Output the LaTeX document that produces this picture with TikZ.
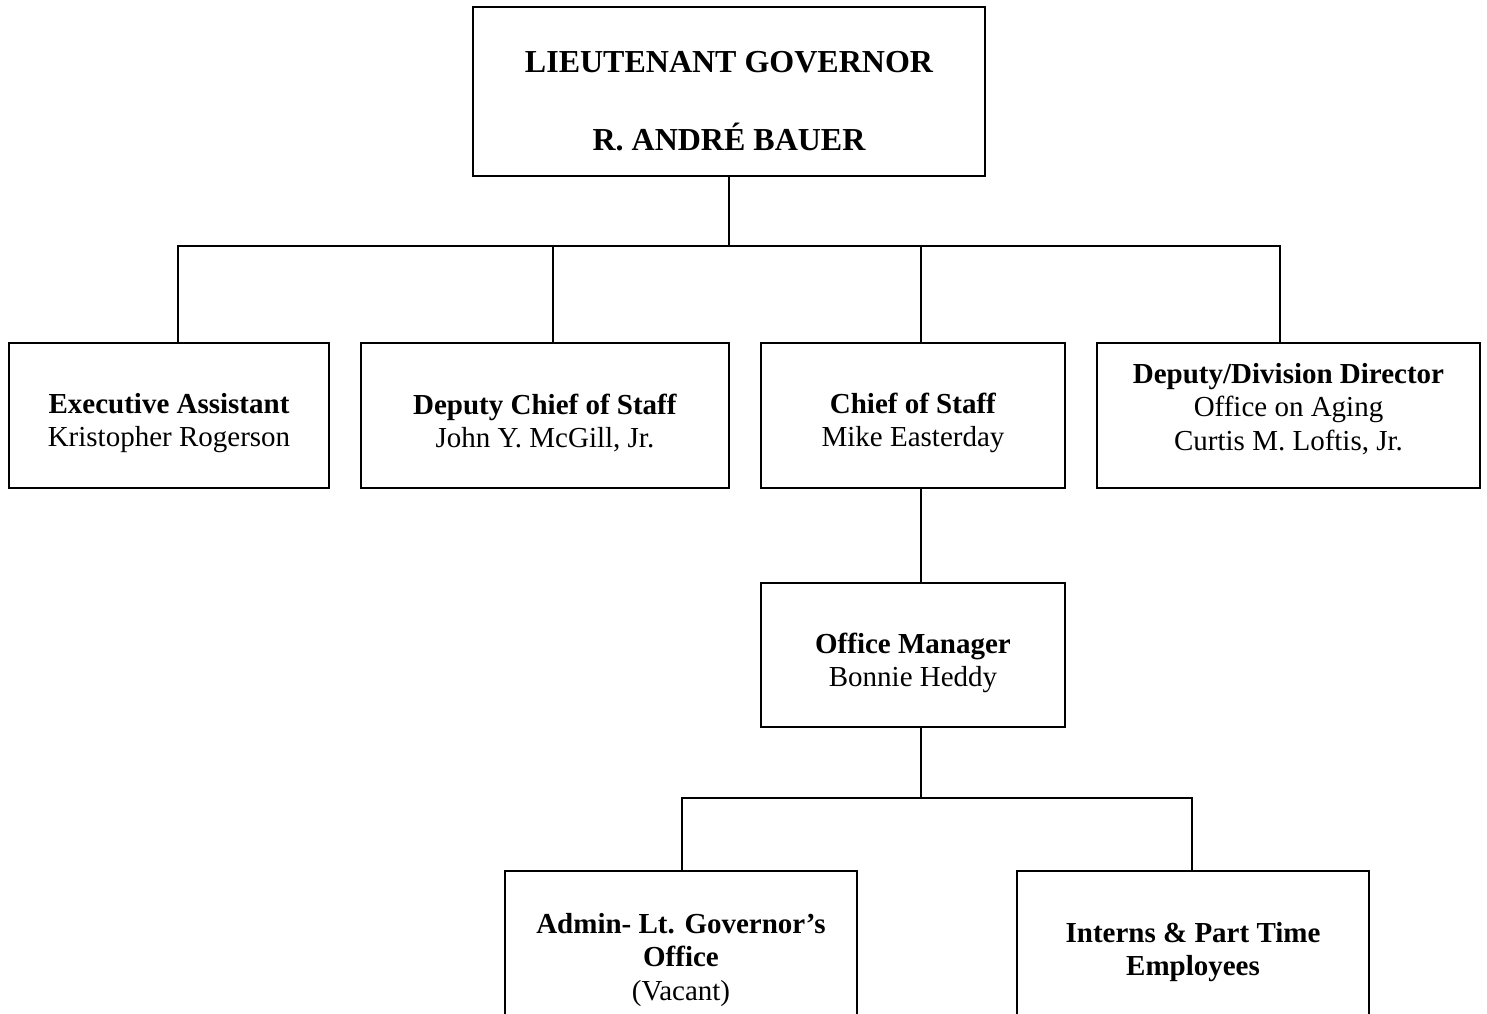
\documentclass[tikz,border=0pt]{standalone}
\usepackage{fontspec}
\setmainfont{Liberation Serif}
\begin{document}
\begin{tikzpicture}[x=0.5pt,y=-0.5pt,
  orgbox/.style={draw, line width=1pt, rectangle, inner sep=0pt},
  txt/.style={align=center, inner sep=0pt, font=\fontsize{14.5}{16.8}\selectfont},
  toptxt/.style={align=center, inner sep=0pt, font=\fontsize{16}{19}\selectfont\bfseries},
  conn/.style={line width=1pt}]
\clip (0,0) rectangle (1487,1013);
\fill[white] (0,0) rectangle (1487,1013);
% boxes
\node[orgbox, minimum width=256pt, minimum height=84.5pt] (gov) at (729,91.5) {};
\node[orgbox, minimum width=160pt, minimum height=72.5pt] (ea) at (169,415.5) {};
\node[orgbox, minimum width=184pt, minimum height=72.5pt] (dcs) at (545,415.5) {};
\node[orgbox, minimum width=152pt, minimum height=72.5pt] (cos) at (913,415.5) {};
\node[orgbox, minimum width=191.5pt, minimum height=72.5pt] (dir) at (1288.5,415.5) {};
\node[orgbox, minimum width=152pt, minimum height=72pt] (om) at (913,655) {};
\node[orgbox, minimum width=176pt, minimum height=100pt] (adm) at (681,971) {};
\node[orgbox, minimum width=176pt, minimum height=100pt] (int) at (1193,971) {};
% texts
\node[toptxt] (govt1) at (729,62) {LIEUTENANT GOVERNOR};
\node[toptxt] (govt2) at (729,137) {R. ANDRÉ BAUER};
\node[txt] (eat) at (169,423) {\textbf{Executive Assistant}\\Kristopher Rogerson};
\node[txt] (dcst) at (545,423) {\textbf{Deputy Chief of Staff}\\John Y. McGill, Jr.};
\node[txt] (cost) at (913,423) {\textbf{Chief of Staff}\\Mike Easterday};
\node[txt] (dirt) at (1288.5,409) {\textbf{Deputy/Division Director}\\Office on Aging\\Curtis M. Loftis, Jr.};
\node[txt] (omt) at (913,663) {\textbf{Office Manager}\\Bonnie Heddy};
\node[txt] (admt) at (681,960) {\textbf{Admin- Lt. Governor’s}\\\textbf{Office}\\(Vacant)};
\node[txt] (intt) at (1193,952) {\textbf{Interns \& Part Time}\\\textbf{Employees}};
% connectors
\coordinate (busA) at (729,246);
\coordinate (busB) at (921,798);
\draw[conn] (gov.south) -- (busA);
\draw[conn] ([xshift=4.5pt]ea.north) |- (busA);
\draw[conn] ([xshift=-4.25pt]dir.north) |- (busA);
\draw[conn] ([xshift=4pt]dcs.north) -- ([xshift=4pt]dcs.north |- busA);
\draw[conn] ([xshift=4pt]cos.north) -- ([xshift=4pt]cos.north |- busA);
\draw[conn] ([xshift=4pt]cos.south) -- ([xshift=4pt]om.north);
\draw[conn] ([xshift=4pt]om.south) -- (busB);
\draw[conn] ([xshift=0.5pt]adm.north) |- (busB);
\draw[conn] ([xshift=-0.5pt]int.north) |- (busB);
\end{tikzpicture}
\end{document}
